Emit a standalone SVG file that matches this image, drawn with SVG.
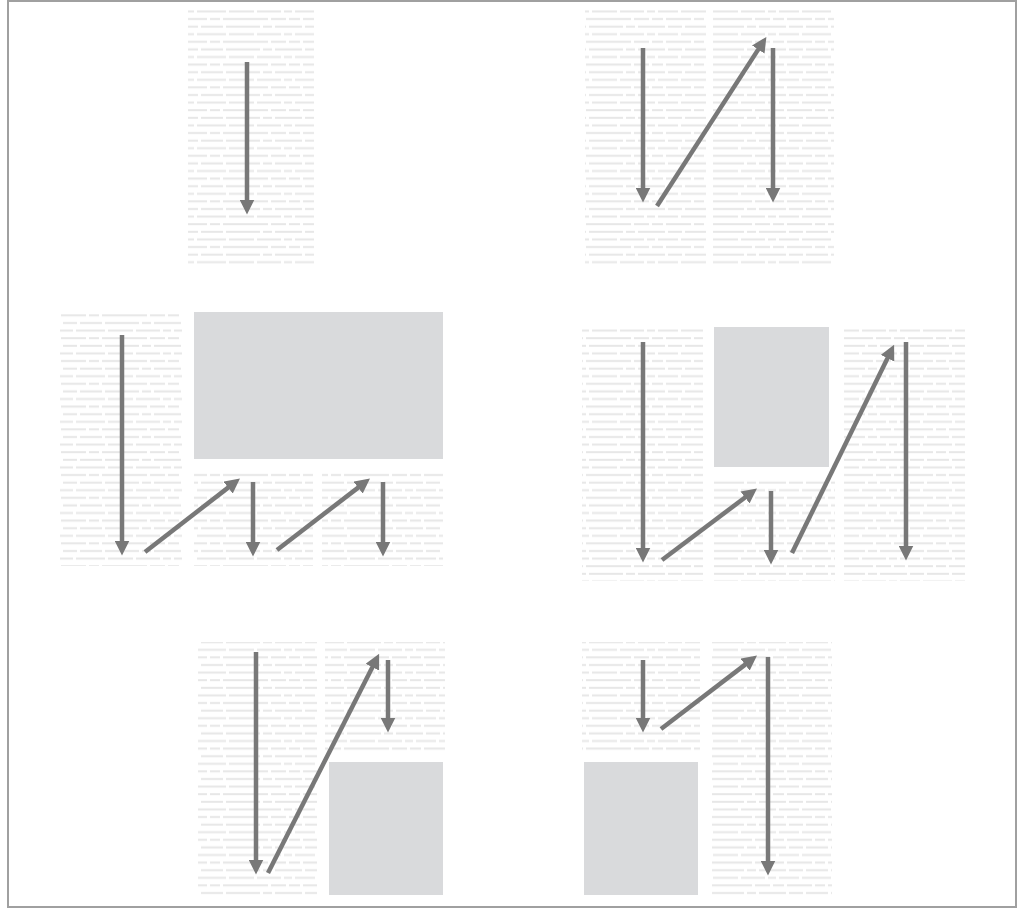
<svg xmlns="http://www.w3.org/2000/svg" width="1022" height="910" viewBox="0 0 1022 910">
<defs>
<style>
.frame{fill:#ffffff;stroke:#a0a0a0;stroke-width:2}
.txt{fill:url(#lines)}
.img{fill:#d9dadc}
.arr{stroke:#787878;stroke-width:4.5;fill:none;marker-end:url(#ah)}
</style>
<pattern id="lines" patternUnits="userSpaceOnUse" x="0" y="0" width="121" height="22.8">
<g fill="#e7e7e7">
<rect x="0" y="2.8" width="18" height="2"/>
<rect x="21" y="2.8" width="9" height="2"/>
<rect x="33" y="2.8" width="27" height="2"/>
<rect x="63" y="2.8" width="14" height="2"/>
<rect x="80" y="2.8" width="22" height="2"/>
<rect x="105" y="2.8" width="16" height="2"/>
<rect x="0" y="10.4" width="12" height="2"/>
<rect x="15" y="10.4" width="24" height="2"/>
<rect x="42" y="10.4" width="8" height="2"/>
<rect x="53" y="10.4" width="20" height="2"/>
<rect x="76" y="10.4" width="29" height="2"/>
<rect x="108" y="10.4" width="13" height="2"/>
<rect x="0" y="18" width="26" height="2"/>
<rect x="29" y="18" width="15" height="2"/>
<rect x="47" y="18" width="11" height="2"/>
<rect x="61" y="18" width="25" height="2"/>
<rect x="89" y="18" width="10" height="2"/>
<rect x="102" y="18" width="19" height="2"/>
</g>
</pattern>
<marker id="ah" markerUnits="userSpaceOnUse" markerWidth="15" markerHeight="15" viewBox="0 0 12 12" refX="2" refY="6" orient="auto">
<path d="M0,0 L12,6 L0,12 Z" fill="#787878"/>
</marker>
</defs>
<rect class="frame" x="8" y="1" width="1008" height="906"/>
<g id="panel1">
<rect class="txt" x="188" y="10" width="126" height="256"/>
</g>
<g id="panel2">
<rect class="txt" x="585" y="10" width="121" height="258"/>
<rect class="txt" x="713" y="10" width="121" height="258"/>
</g>
<g id="panel3">
<rect class="txt" x="60" y="310" width="122" height="256"/>
<rect class="img" x="194" y="312" width="249" height="147"/>
<rect class="txt" x="194" y="472" width="119" height="94"/>
<rect class="txt" x="322" y="472" width="121" height="94"/>
</g>
<g id="panel4">
<rect class="txt" x="582" y="325" width="121" height="256"/>
<rect class="img" x="714" y="327" width="115" height="140"/>
<rect class="txt" x="714" y="478" width="121" height="103"/>
<rect class="txt" x="844" y="325" width="121" height="256"/>
</g>
<g id="panel5">
<rect class="txt" x="198" y="642" width="119" height="256"/>
<rect class="txt" x="325" y="642" width="120" height="109"/>
<rect class="img" x="329" y="762" width="114" height="133"/>
</g>
<g id="panel6">
<rect class="txt" x="582" y="642" width="118" height="109"/>
<rect class="img" x="584" y="762" width="114" height="133"/>
<rect class="txt" x="712" y="642" width="120" height="256"/>
</g>
<g id="connectors">
<line class="arr" x1="247" y1="62" x2="247" y2="202"/>
<line class="arr" x1="643" y1="48" x2="643" y2="190"/>
<line class="arr" x1="657" y1="206" x2="759.6" y2="47.4"/>
<line class="arr" x1="773" y1="48" x2="773" y2="190"/>
<line class="arr" x1="122" y1="335" x2="122" y2="543"/>
<line class="arr" x1="145" y1="552" x2="230.1" y2="486.1"/>
<line class="arr" x1="253" y1="482" x2="253" y2="544"/>
<line class="arr" x1="277" y1="550" x2="360.1" y2="486.1"/>
<line class="arr" x1="383" y1="482" x2="383" y2="544"/>
<line class="arr" x1="643" y1="342" x2="643" y2="550"/>
<line class="arr" x1="662" y1="560" x2="747" y2="496"/>
<line class="arr" x1="771" y1="491" x2="771" y2="552"/>
<line class="arr" x1="792" y1="553" x2="888.6" y2="356"/>
<line class="arr" x1="906" y1="342" x2="906" y2="548"/>
<line class="arr" x1="256" y1="652" x2="256" y2="862"/>
<line class="arr" x1="268" y1="873" x2="373.5" y2="664.9"/>
<line class="arr" x1="388" y1="660" x2="388" y2="720"/>
<line class="arr" x1="643" y1="660" x2="643" y2="720"/>
<line class="arr" x1="661" y1="729" x2="747.1" y2="663.1"/>
<line class="arr" x1="768" y1="657" x2="768" y2="863"/>
</g>
</svg>
